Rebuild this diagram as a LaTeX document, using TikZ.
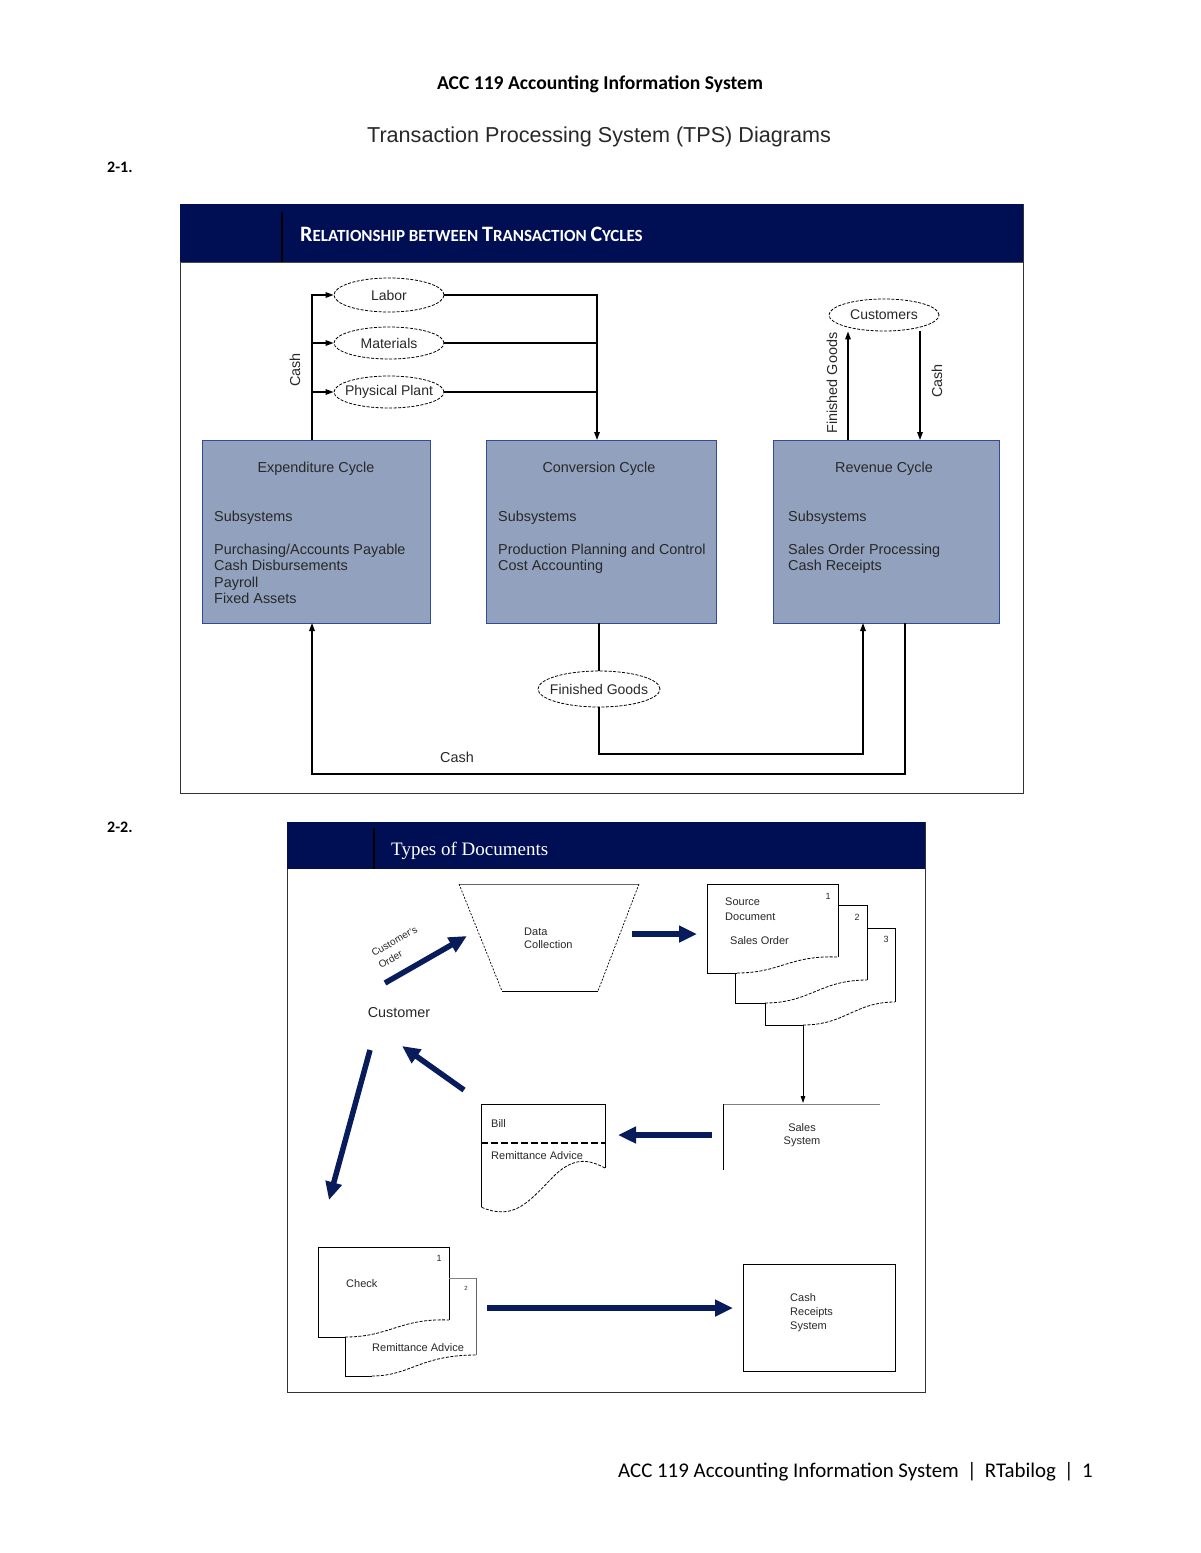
\documentclass[tikz,border=0pt]{standalone}
\usepackage{fontspec}
\setmainfont{Liberation Sans}
\newfontfamily\calfont{Carlito}
\newfontfamily\tmsfont{Liberation Serif}
\usetikzlibrary{arrows.meta,shapes.geometric}

\definecolor{navy}{RGB}{0,14,84}
\definecolor{boxfill}{RGB}{146,161,189}
\definecolor{boxline}{RGB}{50,75,150}
\definecolor{arrowblue}{RGB}{8,28,92}
\definecolor{txtgray}{RGB}{40,40,40}

\newcommand\fakesc[2]{{\fontsize{22}{22}\selectfont #1}{\fontsize{17}{17}\selectfont #2}}

\tikzset{
  cyclebox/.style={draw=boxline, fill=boxfill, line width=1pt, rectangle, anchor=north west, inner sep=0pt},
  oval/.style={ellipse, draw, line width=0.8pt, dash pattern=on 3pt off 1.5pt, inner sep=0pt,
    font=\fontsize{14}{16}\selectfont, text=txtgray},
  txt/.style={font=\fontsize{14.4}{16}\selectfont, text=txtgray, inner sep=0pt},
  smalltxt/.style={font=\fontsize{11}{13}\selectfont, text=txtgray, inner sep=0pt},
  numtxt/.style={font=\fontsize{9}{10}\selectfont, text=txtgray, inner sep=0pt},
  flowline/.style={line width=1.4pt},
  flow/.style={line width=1.4pt, -{Triangle[length=8pt,width=5.5pt]}},
  thinflow/.style={line width=0.8pt, -{Triangle[length=7pt,width=4.5pt]}},
  bigarrow/.style={arrowblue, line width=5.5pt, -{Triangle[length=18pt,width=16pt]}},
  docline/.style={line width=0.9pt},
  wave/.style={line width=0.8pt, dash pattern=on 3pt off 1.5pt},
}

\begin{document}
\begin{tikzpicture}[x=1pt,y=-1pt]
\useasboundingbox[fill=white] (0,0) rectangle (1200,1553);

% ---------- page texts ----------
\node[font=\calfont\bfseries\fontsize{19.6}{21}\selectfont, anchor=base, inner sep=0pt] (hdr) at (600,89) {ACC 119 Accounting Information System};
\node[font=\fontsize{21.6}{23}\selectfont, text=txtgray, anchor=base, inner sep=0pt] (ttl) at (599,142) {Transaction Processing System (TPS) Diagrams};
\node[font=\calfont\bfseries\fontsize{16}{18}\selectfont, anchor=base west, inner sep=0pt] (n21) at (107,172) {2-1.};
\node[font=\calfont\bfseries\fontsize{16}{18}\selectfont, anchor=base west, inner sep=0pt] (n22) at (107,832) {2-2.};
\node[font=\calfont\fontsize{20.9}{22}\selectfont, anchor=base west, inner sep=0pt] (ftr) at (618,1477) {ACC 119 Accounting Information System \,|\, RTabilog \,|\, 1};

% ========== Diagram 2-1 ==========
\draw[line width=1pt, draw=black!80] (180,204) rectangle (1023,793);
\fill[navy] (180,204) rectangle (1023,262);
\draw[line width=1.2pt, black] (282,212) -- (282,262);
\draw[line width=0.8pt, black!70] (180,262) -- (1023,262);
\node[font=\calfont\bfseries, text=white, anchor=base west, inner sep=0pt] (t1) at (300,241)
  {\fakesc{R}{ELATIONSHIP BETWEEN }\fakesc{T}{RANSACTION }\fakesc{C}{YCLES}};

% cycle boxes
\node[cyclebox, minimum width=228pt, minimum height=183pt] (exp) at (202,440) {};
\node[cyclebox, minimum width=230pt, minimum height=183pt] (conv) at (486,440) {};
\node[cyclebox, minimum width=226pt, minimum height=183pt] (rev) at (773,440) {};

\node[txt, anchor=base] (e0) at (316,472) {Expenditure Cycle};
\node[txt, anchor=base west] (e1) at (214,521) {Subsystems};
\node[txt, anchor=base west] (e2) at (214,554) {Purchasing/Accounts Payable};
\node[txt, anchor=base west] (e3) at (214,570) {Cash Disbursements};
\node[txt, anchor=base west] (e4) at (214,587) {Payroll};
\node[txt, anchor=base west] (e5) at (214,603) {Fixed Assets};

\node[txt, anchor=base] (c0) at (599,472) {Conversion Cycle};
\node[txt, anchor=base west] (c1t) at (498,521) {Subsystems};
\node[txt, anchor=base west] (c2t) at (498,554) {Production Planning and Control};
\node[txt, anchor=base west] (c3t) at (498,570) {Cost Accounting};

\node[txt, anchor=base] (r0) at (884,472) {Revenue Cycle};
\node[txt, anchor=base west] (r1t) at (788,521) {Subsystems};
\node[txt, anchor=base west] (r2t) at (788,554) {Sales Order Processing};
\node[txt, anchor=base west] (r3t) at (788,570) {Cash Receipts};

% ellipses
\node[oval, minimum width=110pt, minimum height=34pt] (labor) at (389,295) {Labor};
\node[oval, minimum width=110pt, minimum height=32pt] (materials) at (389,343) {Materials};
\node[oval, minimum width=110pt, minimum height=32pt, inner xsep=-6pt] (plant) at (389,392) {Physical Plant};
\node[oval, minimum width=110pt, minimum height=32pt] (customers) at (884,315) {Customers};
\node[oval, minimum width=122pt, minimum height=36pt, inner xsep=-8pt] (fg) at (599,689) {Finished Goods};

% coordinates on box edges
\coordinate (ca) at (312,440);
\coordinate (cb) at (597,440);
\coordinate (ra) at (848,440);
\coordinate (rb) at (920,440);
\coordinate (cc) at (599,623);
\coordinate (rc) at (863,623);
\coordinate (rd) at (905,623);
\coordinate (ea) at (312,623);
\coordinate (turn1) at (599,754);
\coordinate (turn2) at (905,774);

% Cash to inputs
\draw[flow] (ca) |- (labor.west);
\draw[flow] (ca |- materials.west) -- (materials.west);
\draw[flow] (ca |- plant.west) -- (plant.west);
\node[txt, rotate=90] (cashl) at (295,370) {Cash};

% inputs to conversion
\draw[flow] (labor.east) -| (cb);
\draw[flowline] (materials.east) -- (materials.east -| cb);
\draw[flowline] (plant.east) -- (plant.east -| cb);

% revenue <-> customers
\draw[flow] (ra) -- (ra |- customers.south);
\draw[flow] (rb |- customers.south) -- (rb);
\node[txt, rotate=90] (fgl) at (832,383) {Finished Goods};
\node[txt, rotate=90] (cashr) at (937,381) {Cash};

% bottom loops
\draw[flowline] (cc) -- (fg.north);
\draw[flow] (fg.south) -- (turn1) -| (rc);
\draw[flow] (rd) -- (turn2) -| (ea);
\node[txt, anchor=base] (cashb) at (457,762) {Cash};

% ========== Diagram 2-2 ==========
\draw[line width=1pt, draw=black!80] (287,822) rectangle (925,1392);
\fill[navy] (287,822) rectangle (925,869);
\draw[line width=1.2pt, black] (374,828) -- (374,869);
\node[font=\tmsfont\fontsize{19}{21}\selectfont, text=white, anchor=base west, inner sep=0pt] (t2) at (391,855) {Types of Documents};

% Data collection trapezoid
\draw[line width=0.6pt, black!60] (459,884) -- (639,884);
\draw[line width=0.7pt, dash pattern=on 2pt off 1.5pt] (459,884) -- (502,991);
\draw[line width=0.7pt, dash pattern=on 2pt off 1.5pt] (639,884) -- (598,991);
\draw[line width=0.9pt] (502,991) -- (598,991);
\node[smalltxt, anchor=base west] (dc1) at (524,935) {Data};
\node[smalltxt, anchor=base west] (dc2) at (524,948) {Collection};

% Customer
\node[txt, anchor=base] (cust) at (399,1017) {Customer};
\node[font=\fontsize{10}{11}\selectfont, text=txtgray, rotate=30, anchor=base west, inner sep=0pt] (colbl1) at (374,957) {Customer's};
\node[font=\fontsize{10}{11}\selectfont, text=txtgray, rotate=30, anchor=base west, inner sep=0pt] (colbl2) at (381,969) {Order};

% Source document stack
\draw[docline] (707,973) -- (707,884) -- (838,884) -- (838,957);
\draw[docline] (707,973) -- (737,973);
\draw[wave] (737,973) .. controls (780,973) and (790,955) .. (838,957);
\draw[docline] (838,905) -- (867,905) -- (867,980);
\draw[docline] (735,973) -- (735,1003) -- (765,1003);
\draw[wave] (765,1003) .. controls (810,1003) and (820,980) .. (867,980);
\draw[docline] (867,928) -- (895,928) -- (895,1002);
\draw[docline] (765,1003) -- (765,1025) -- (803,1025);
\draw[wave] (803,1025) .. controls (845,1025) and (855,1002) .. (895,1002);
\node[smalltxt, anchor=base west] (sd1) at (725,905) {Source};
\node[smalltxt, anchor=base west] (sd2) at (725,920) {Document};
\node[smalltxt, anchor=base west] (sd3) at (730,944) {Sales Order};
\node[numtxt, anchor=base] (sn1) at (828,899) {1};
\node[numtxt, anchor=base] (sn2) at (857,920) {2};
\node[numtxt, anchor=base] (sn3) at (886,942) {3};

% Sales system
\draw[line width=0.6pt, black!50] (723,1104) -- (880,1104);
\draw[docline] (723,1104) -- (723,1170);
\node[smalltxt, align=center] (sales) at (802,1135) {Sales\\System};
\coordinate (sdbot) at (803,1025);
\coordinate (sstop) at (803,1103);
\draw[thinflow] (sdbot) -- (sstop);

% Bill document
\draw[docline] (481,1207) -- (481,1104) -- (605,1104) -- (605,1168);
\draw[wave] (605,1168) .. controls (590,1160) and (575,1156) .. (555,1175)
  .. controls (530,1200) and (515,1222) .. (481,1207);
\draw[line width=2pt, dash pattern=on 7pt off 3pt] (481,1143) -- (605,1143);
\node[smalltxt, anchor=base west] (bill) at (491,1127) {Bill};
\node[smalltxt, anchor=base west] (rem1) at (491,1159) {Remittance Advice};

% Check document
\draw[docline] (318,1337) -- (318,1247) -- (449,1247) -- (449,1320);
\draw[docline] (318,1337) -- (345,1337);
\draw[wave] (345,1337) .. controls (390,1337) and (400,1318) .. (449,1320);
\draw[line width=0.6pt, black!50] (449,1278) -- (476,1278);
\draw[line width=0.6pt, black!60] (476,1278) -- (476,1355);
\draw[docline] (345,1337) -- (345,1376) -- (372,1376);
\draw[wave] (372,1376) .. controls (410,1376) and (420,1355) .. (476,1355);
\node[smalltxt, anchor=base west] (chk) at (346,1287) {Check};
\node[smalltxt, anchor=base west] (rem2) at (372,1351) {Remittance Advice};
\node[numtxt, anchor=base] (cn1) at (439,1261) {1};
\node[font=\fontsize{6}{7}\selectfont, text=txtgray, inner sep=0pt, anchor=base] (cn2) at (466,1290) {2};

% Cash receipts system
\node[draw, line width=0.9pt, minimum width=152pt, minimum height=107pt, anchor=north west, inner sep=0pt] (crs) at (743,1264) {};
\node[smalltxt, anchor=west, align=left, font=\fontsize{11}{14}\selectfont] (crst) at (790,1313) {Cash\\Receipts\\System};

% big arrows
\coordinate (a1s) at (385,983);  \coordinate (a1e) at (467,936);
\coordinate (a2s) at (632,934);  \coordinate (a2e) at (697,934);
\coordinate (a3s) at (712,1135); \coordinate (a3e) at (618,1135);
\coordinate (a4s) at (464,1090); \coordinate (a4e) at (402,1046);
\coordinate (a5s) at (370,1050); \coordinate (a5e) at (329,1200);
\coordinate (a6s) at (487,1308); \coordinate (a6e) at (733,1308);
\draw[bigarrow] (a1s) -- (a1e);
\draw[bigarrow] (a2s) -- (a2e);
\draw[bigarrow] (a3s) -- (a3e);
\draw[bigarrow] (a4s) -- (a4e);
\draw[bigarrow] (a5s) -- (a5e);
\draw[bigarrow] (a6s) -- (a6e);
\end{tikzpicture}
\end{document}
